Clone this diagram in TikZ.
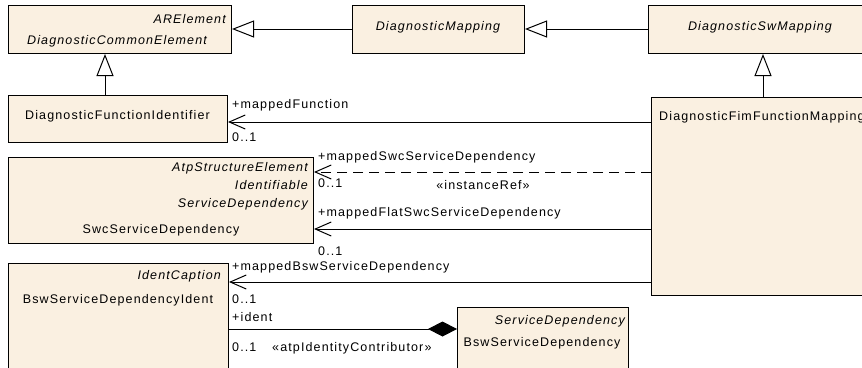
\documentclass[tikz,border=0pt]{standalone}
\usepackage{fontspec}
\setmainfont[LetterSpace=9]{Liberation Sans}
\usetikzlibrary{arrows.meta}
\definecolor{classfill}{RGB}{250,240,225}
\definecolor{linecol}{RGB}{0,0,0}
\tikzset{
  umlclass/.style={draw=linecol,line width=1bp,fill=classfill},
  txt/.style={inner sep=0pt,font=\fontsize{12.5bp}{14bp}\selectfont},
  itxt/.style={txt,font=\fontsize{12.5bp}{14bp}\selectfont\itshape},
  generalization/.style={draw=linecol,line width=1bp,-{Triangle[open,length=22bp,width=17bp,fill=white]}},
  assoc/.style={draw=linecol,line width=1bp,-{Straight Barb[length=16bp,width=14bp]}},
  dashassoc/.style={assoc,dash pattern=on 10bp off 6bp},
  composition/.style={draw=linecol,line width=1bp,-{Diamond[length=29bp,width=15bp,fill=black]}},
}
\begin{document}
\begin{tikzpicture}[x=1bp,y=-1bp]
\useasboundingbox (0,0) rectangle (862,367);
\clip (0,0) rectangle (862,367);
% class boxes
\node[umlclass,anchor=north west,minimum width=223bp,minimum height=48bp,inner sep=0pt] (dce) at (8,5) {};
\node[umlclass,anchor=north west,minimum width=172bp,minimum height=48bp,inner sep=0pt] (dm) at (352,5) {};
\node[umlclass,anchor=north west,minimum width=230bp,minimum height=48bp,inner sep=0pt] (dsm) at (648,5) {};
\node[umlclass,anchor=north west,minimum width=219bp,minimum height=47bp,inner sep=0pt] (dfi) at (8,95) {};
\node[umlclass,anchor=north west,minimum width=227bp,minimum height=198bp,inner sep=0pt] (fim) at (651,97) {};
\node[umlclass,anchor=north west,minimum width=305bp,minimum height=86bp,inner sep=0pt] (swc) at (8,157) {};
\node[umlclass,anchor=north west,minimum width=220bp,minimum height=120bp,inner sep=0pt] (bsi) at (8,263) {};
\node[umlclass,anchor=north west,minimum width=171bp,minimum height=80bp,inner sep=0pt] (bsd) at (457,307) {};
% class texts
\node[itxt,anchor=base east] (t1) at (226,23) {ARElement};
\node[itxt,anchor=base] (t2) at (117,44) {DiagnosticCommonElement};
\node[itxt,anchor=base] (t3) at (438,30) {DiagnosticMapping};
\node[itxt,anchor=base] (t4) at (760,30) {DiagnosticSwMapping};
\node[txt,anchor=base] (t5) at (117.5,119) {DiagnosticFunctionIdentifier};
\node[txt,anchor=base west] (t6) at (659,120) {DiagnosticFimFunctionMapping};
\node[itxt,anchor=base east] (t7) at (308,171) {AtpStructureElement};
\node[itxt,anchor=base east] (t8) at (308,189) {Identifiable};
\node[itxt,anchor=base east] (t9) at (308,207) {ServiceDependency};
\node[txt,anchor=base] (t10) at (161,233) {SwcServiceDependency};
\node[itxt,anchor=base east] (t11) at (221,279) {IdentCaption};
\node[txt,anchor=base] (t12) at (118,303) {BswServiceDependencyIdent};
\node[itxt,anchor=base east] (t13) at (625,324) {ServiceDependency};
\node[txt,anchor=base] (t14) at (542,346) {BswServiceDependency};
% generalizations
\draw[generalization] (dm.west |- 0,29) -- (dce.east |- 0,29);
\draw[generalization] (dsm.west |- 0,29) -- (dm.east |- 0,29);
\draw[generalization] (dfi.north -| 105,0) -- (dce.south -| 105,0);
\draw[generalization] (fim.north -| 763,0) -- (dsm.south -| 763,0);
% associations
\draw[assoc] (fim.west |- 0,122) -- (dfi.east |- 0,122);
\draw[dashassoc] (fim.west |- 0,172) -- (swc.east |- 0,172);
\draw[assoc] (fim.west |- 0,229) -- (swc.east |- 0,229);
\draw[assoc] (fim.west |- 0,282) -- (bsi.east |- 0,282);
\draw[composition] (bsi.east |- 0,329) -- (bsd.west |- 0,329);
% role labels
\node[txt,anchor=base west] (l1) at (232,108) {+mappedFunction};
\node[txt,anchor=base west] (m1) at (232,141) {0..1};
\node[txt,anchor=base west] (l2) at (318,160) {+mappedSwcServiceDependency};
\node[txt,anchor=base west] (m2) at (318,187) {0..1};
\node[txt,anchor=base] (s2) at (483,189) {«instanceRef»};
\node[txt,anchor=base west] (l3) at (318,216) {+mappedFlatSwcServiceDependency};
\node[txt,anchor=base west] (m3) at (318,255) {0..1};
\node[txt,anchor=base west] (l4) at (232,270) {+mappedBswServiceDependency};
\node[txt,anchor=base west] (m4) at (232,303) {0..1};
\node[txt,anchor=base west] (l5) at (232,321) {+ident};
\node[txt,anchor=base west] (m5) at (232,351) {0..1};
\node[txt,anchor=base west] (s5) at (272,351) {«atpIdentityContributor»};
\end{tikzpicture}
\end{document}
